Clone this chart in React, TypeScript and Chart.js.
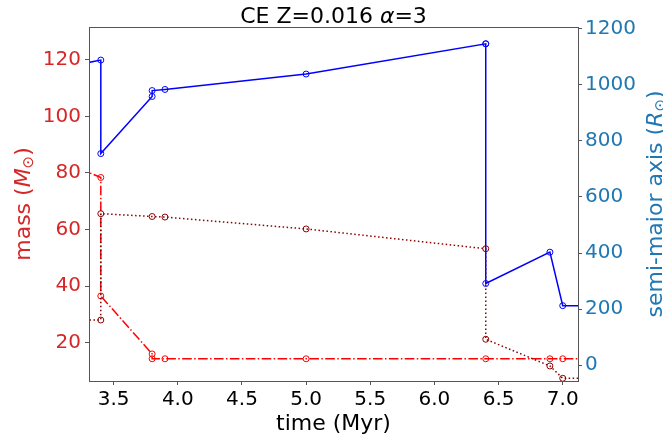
import React, { useEffect, useRef } from "react";
import { Chart, registerables } from "chart.js";

Chart.register(...registerables);

// ---- data ----
const primaryTime = [3.0, 3.4, 3.4, 3.8, 3.8, 3.9, 5.0, 6.4, 6.9, 7.0, 7.3];
const primaryMass = [85.8, 78.4, 36.5, 16.0, 14.3, 14.3, 14.3, 14.3, 14.3, 14.3, 14.3];

const secondaryTime = [3.0, 3.4, 3.4, 3.8, 3.9, 5.0, 6.4, 6.4, 6.9, 7.0, 7.3];
const secondaryMass = [28.0, 28.0, 65.6, 64.6, 64.4, 60.2, 53.2, 21.2, 11.75, 7.4, 7.4];

const sepTime = [3.0, 3.4, 3.4, 3.8, 3.8, 3.9, 5.0, 6.4, 6.4, 6.4, 6.9, 7.0, 7.3];
const separation = [1053, 1089, 755, 959, 980, 984, 1039, 1147, 1147, 291, 403, 212, 212];

const xTickValues = [3.5, 4.0, 4.5, 5.0, 5.5, 6.0, 6.5, 7.0];
const massTickValues = [20, 40, 60, 80, 100, 120];
const sepTickValues = [0, 200, 400, 600, 800, 1000, 1200];

const FONT = "DejaVu Sans";
const RED = "#d62728";
const BLUE = "#1f77b4";
const FRAME = "#555555";

type Part = { t: string; font: string; dy?: number };

function drawParts(ctx: CanvasRenderingContext2D, parts: Part[], x: number, y: number, color: string) {
  ctx.save();
  ctx.fillStyle = color;
  ctx.textBaseline = "alphabetic";
  ctx.textAlign = "left";
  let total = 0;
  for (const p of parts) {
    ctx.font = p.font;
    total += ctx.measureText(p.t).width;
  }
  let cx = x - total / 2;
  for (const p of parts) {
    ctx.font = p.font;
    ctx.fillText(p.t, cx, y + (p.dy || 0));
    cx += ctx.measureText(p.t).width;
  }
  ctx.restore();
}

const N = `22px '${FONT}'`;
const I = `italic 22px '${FONT}'`;
const S = `15px '${FONT}'`;

const textPlugin = {
  id: "textPlugin",
  afterDatasetsDraw(chart: any) {
    const { ctx, chartArea } = chart;
    ctx.save();
    ctx.strokeStyle = FRAME;
    ctx.lineWidth = 1;
    ctx.strokeRect(
      Math.round(chartArea.left) + 0.5,
      Math.round(chartArea.top) + 0.5,
      Math.round(chartArea.right - chartArea.left),
      Math.round(chartArea.bottom - chartArea.top)
    );
    ctx.restore();
  },
  afterDraw(chart: any) {
    const { ctx, chartArea } = chart;
    const cx = (chartArea.left + chartArea.right) / 2;
    const cy = (chartArea.top + chartArea.bottom) / 2;
    drawParts(ctx, [
      { t: "CE Z=0.016 ", font: N },
      { t: "α", font: I },
      { t: "=3", font: N },
    ], cx, 23, "#000000");
    drawParts(ctx, [{ t: "time (Myr)", font: N }], cx, 430, "#000000");

    ctx.save();
    ctx.translate(30, cy);
    ctx.rotate(-Math.PI / 2);
    drawParts(ctx, [
      { t: "mass (", font: N },
      { t: "M", font: I },
      { t: "⊙", font: S, dy: 3 },
      { t: ")", font: N },
    ], 0, 0, RED);
    ctx.restore();

    ctx.save();
    ctx.translate(662, cy);
    ctx.rotate(-Math.PI / 2);
    drawParts(ctx, [
      { t: "semi-major axis (", font: N },
      { t: "R", font: I },
      { t: "⊙", font: S, dy: 3 },
      { t: ")", font: N },
    ], 0, 0, BLUE);
    ctx.restore();
  },
};

function toPoints(xs: number[], ys: number[]) {
  return xs.map((x, i) => ({ x, y: ys[i] }));
}

export default function App() {
  const ref = useRef<HTMLCanvasElement | null>(null);

  useEffect(() => {
    if (!ref.current) return;
    const chart = new Chart(ref.current, {
      type: "line",
      data: {
        datasets: [
          {
            label: "secondary",
            data: toPoints(secondaryTime, secondaryMass),
            yAxisID: "y",
            borderColor: "#8b0000",
            borderWidth: 1.5,
            borderDash: [1.5, 2.5],
            pointStyle: "circle",
            pointRadius: 3,
            pointBorderWidth: 1,
            pointBorderColor: "#8b0000",
            pointBackgroundColor: "rgba(0,0,0,0)",
            tension: 0,
            clip: 0,
            order: 1,
          },
          {
            label: "primary",
            data: toPoints(primaryTime, primaryMass),
            yAxisID: "y",
            borderColor: "#ff0000",
            borderWidth: 1.5,
            borderDash: [9.6, 2.4, 1.5, 2.4],
            pointStyle: "circle",
            pointRadius: 3,
            pointBorderWidth: 1,
            pointBorderColor: "#ff0000",
            pointBackgroundColor: "rgba(0,0,0,0)",
            tension: 0,
            clip: 0,
            order: 2,
          },
          {
            label: "separation",
            data: toPoints(sepTime, separation),
            yAxisID: "y2",
            borderColor: "#0000ff",
            borderWidth: 1.5,
            pointStyle: "circle",
            pointRadius: 3,
            pointBorderWidth: 1,
            pointBorderColor: "#0000ff",
            pointBackgroundColor: "rgba(0,0,0,0)",
            tension: 0,
            clip: 0,
            order: 3,
          },
        ],
      },
      options: {
        animation: false,
        responsive: false,
        maintainAspectRatio: false,
        devicePixelRatio: 1,
        layout: { padding: { top: 27, left: 0, right: 0, bottom: 0 } },
        plugins: {
          legend: { display: false },
          title: { display: false },
          tooltip: { enabled: false },
        },
        scales: {
          x: {
            type: "linear",
            position: "bottom",
            min: 3.308,
            max: 7.119,
            afterBuildTicks: (axis: any) => {
              axis.ticks = xTickValues.map((v) => ({ value: v }));
            },
            afterFit: (axis: any) => {
              axis.height = 58;
            },
            ticks: {
              color: "#000000",
              font: { family: FONT, size: 20 },
              padding: 3,
              maxRotation: 0,
              autoSkip: false,
              callback: (v: any) => Number(v).toFixed(1),
            },
            grid: { display: true, drawOnChartArea: false, drawTicks: true, tickLength: 4, color: FRAME },
            border: { display: false },
          },
          y: {
            type: "linear",
            position: "left",
            min: 6.44,
            max: 131.6,
            afterBuildTicks: (axis: any) => {
              axis.ticks = massTickValues.map((v) => ({ value: v }));
            },
            afterFit: (axis: any) => {
              axis.width = 89;
            },
            ticks: {
              color: RED,
              font: { family: FONT, size: 20 },
              padding: 4,
              autoSkip: false,
              callback: (v: any) => String(v),
            },
            grid: { display: true, drawOnChartArea: false, drawTicks: true, tickLength: 4, color: FRAME },
            border: { display: false },
          },
          y2: {
            type: "linear",
            position: "right",
            min: -57,
            max: 1207,
            afterBuildTicks: (axis: any) => {
              axis.ticks = sepTickValues.map((v) => ({ value: v }));
            },
            afterFit: (axis: any) => {
              axis.width = 85;
            },
            ticks: {
              color: BLUE,
              font: { family: FONT, size: 20 },
              padding: 3,
              autoSkip: false,
              callback: (v: any) => String(v),
            },
            grid: { display: true, drawOnChartArea: false, drawTicks: true, tickLength: 4, color: FRAME },
            border: { display: false },
          },
        },
      },
      plugins: [textPlugin],
    } as any);
    return () => chart.destroy();
  }, []);

  return (
    <canvas
      ref={ref}
      width={663}
      height={439}
      style={{ position: "absolute", left: 0, top: 0, width: 663, height: 439 }}
    />
  );
}
